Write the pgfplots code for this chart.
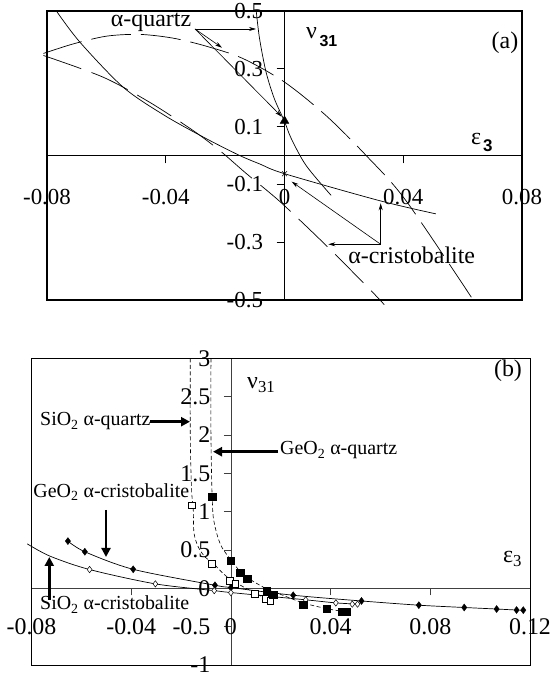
\documentclass[border=0pt]{standalone}
\usepackage{pgfplots}
\pgfplotsset{compat=1.18}
\usetikzlibrary{arrows.meta}
\usepackage{fontspec}
\setmainfont{Liberation Serif}
\setsansfont{Liberation Sans}
\begin{document}
\begin{tikzpicture}
\useasboundingbox (0,0) rectangle (550bp,678bp);

% ---------------- Panel (a) ----------------
\begin{axis}[
 at={(47bp,378bp)}, anchor=south west,
 scale only axis, width=475bp, height=289bp,
 xmin=-0.08, xmax=0.08, ymin=-0.5, ymax=0.5,
 scaled x ticks=false, scaled y ticks=false,
 axis lines=middle,
 axis line style={-, line width=0.8bp},
 hide obscured x ticks=false, hide obscured y ticks=false,
 xtick={-0.08,-0.04,0,0.04,0.08},
 xticklabels={-0.08,-0.04,0,0.04,0.08},
 ytick={-0.5,-0.3,-0.1,0.1,0.3,0.5},
 yticklabels={-0.5,-0.3,-0.1,0.1,0.3,0.5},
 tick align=outside, major tick length=8bp,
 tick style={line width=0.8bp, black},
 xticklabel style={font=\fontsize{23}{23}\selectfont, anchor=north, yshift=-22bp},
 yticklabel style={font=\fontsize{23}{23}\selectfont, anchor=east, xshift=-10bp},
 clip=false,
]
% curve A (solid)
\addplot[black, line width=0.7bp, smooth] coordinates {
(-0.0767,0.498) (-0.0689,0.392) (-0.0543,0.236) (-0.0403,0.138) (-0.0263,0.058)
(-0.0151,0.0) (-0.0084,-0.029) (0,-0.063) (0.0319,-0.156) (0.051,-0.202)};
% curve B (solid steep)
\addplot[black, line width=0.7bp, smooth] coordinates {
(-0.0095,0.498) (-0.0084,0.404) (-0.0062,0.288) (-0.0034,0.196) (0,0.118)
(0.0023,0.058) (0.0073,-0.035) (0.0157,-0.138)};
% curve C (long dashed)
\addplot[black, line width=0.7bp, smooth, dash pattern=on 40bp off 10bp] coordinates {
(-0.0812,0.353) (-0.0712,0.386) (-0.0599,0.413) (-0.0487,0.419) (-0.0375,0.406)
(-0.0263,0.378) (-0.0141,0.336) (0,0.254) (0.014,0.138) (0.0275,0.0)
(0.0409,-0.156) (0.0644,-0.513)};
% curve D (long dashed)
\addplot[black, line width=0.7bp, smooth, dash pattern=on 40bp off 11bp] coordinates {
(-0.0812,0.346) (-0.0611,0.271) (-0.0454,0.184) (-0.0308,0.0865) (-0.0218,0.017)
(-0.0128,-0.063) (-0.0017,-0.158) (0.0129,-0.300) (0.0275,-0.450) (0.0336,-0.516)};
% markers
\addplot[only marks, mark=triangle*, mark size=5bp, black] coordinates {(0,0.12)};
\addplot[only marks, mark=x, mark size=3.5bp, black, line width=0.5bp] coordinates {(0,-0.063)};
\draw[line width=1.5bp] (rel axis cs:0,0) rectangle (rel axis cs:1,1);
\end{axis}

% ---------------- Panel (b) ----------------
\begin{axis}[
 at={(31.5bp,13bp)}, anchor=south west,
 scale only axis, width=498.5bp, height=306.7bp,
 xmin=-0.08, xmax=0.12, ymin=-1, ymax=3,
 scaled x ticks=false, scaled y ticks=false,
 axis lines=middle,
 axis line style={-, line width=0.8bp, black!75},
 hide obscured x ticks=false, hide obscured y ticks=false,
 xtick={-0.08,-0.04,0,0.04,0.08,0.12},
 xticklabels={-0.08,-0.04,0,0.04,0.08,0.12},
 ytick={-1,-0.5,0,0.5,1,1.5,2,2.5,3},
 yticklabels={-1,-0.5,0,0.5,1,1.5,2,2.5,3},
 tick align=outside, major tick length=7bp,
 tick style={line width=0.8bp, black!75},
 xticklabel style={font=\fontsize{24}{24}\selectfont, anchor=north, yshift=-20bp},
 yticklabel style={font=\fontsize{24}{24}\selectfont, anchor=east, xshift=-10bp},
 clip=false,
]
% SiO2 alpha-cristobalite line
\addplot[black, line width=0.7bp, smooth] coordinates {
(-0.0817,0.58) (-0.0726,0.42) (-0.0567,0.245) (-0.0303,0.058) (-0.0067,-0.03)
(0,-0.055) (0.03,-0.15) (0.0421,-0.19) (0.0508,-0.206)};
% GeO2 alpha-cristobalite line
\addplot[black, line width=0.7bp, smooth] coordinates {
(-0.0654,0.616) (-0.0586,0.477) (-0.0392,0.248) (-0.0064,0.04) (0,0.01)
(0.025,-0.09) (0.0524,-0.165) (0.0754,-0.22) (0.0936,-0.25) (0.1066,-0.27)
(0.1146,-0.283) (0.1173,-0.285)};
% SiO2 alpha-quartz dashed
\addplot[black, line width=0.6bp, smooth, dash pattern=on 4bp off 2.5bp] coordinates {
(-0.0163,3) (-0.0163,2.0) (-0.0158,1.3) (-0.0151,1.02) (-0.0148,0.72)
(-0.0131,0.54) (-0.0104,0.41) (-0.0071,0.326) (-0.003,0.19) (0.001,0.09)
(0.005,0.02) (0.0096,-0.06) (0.0157,-0.16)};
% GeO2 alpha-quartz dashed
\addplot[black, line width=0.6bp, smooth, dash pattern=on 4bp off 2.5bp] coordinates {
(-0.0080,3) (-0.0080,2.0) (-0.0077,1.4) (-0.0075,1.194) (-0.0071,0.934)
(-0.0057,0.717) (-0.0037,0.54) (0,0.37) (0.004,0.21) (0.008,0.11)
(0.0145,-0.01) (0.02,-0.08) (0.029,-0.19) (0.0384,-0.265) (0.0466,-0.31)};
% markers
\addplot[only marks, mark=diamond*, mark size=3.5bp, black] coordinates {
(-0.0654,0.616) (-0.0586,0.477) (-0.0392,0.248) (-0.0064,0.04) (0,0.01)
(0.025,-0.09) (0.0524,-0.165) (0.0754,-0.22) (0.0936,-0.25) (0.1066,-0.27)
(0.1146,-0.283) (0.1173,-0.285)};
\addplot[only marks, mark=diamond*, mark size=3.2bp, black, fill=white, line width=0.5bp] coordinates {
(-0.0567,0.245) (-0.0303,0.058) (-0.0067,-0.03) (0,-0.057) (0.03,-0.15)
(0.0421,-0.19) (0.0487,-0.206) (0.0508,-0.206)};
\addplot[only marks, mark=square*, mark size=3.2bp, black, fill=white, line width=0.5bp] coordinates {
(-0.0157,1.08) (-0.0077,0.32) (-0.0005,0.10) (0.0018,0.06) (0.0096,-0.07)
(0.0139,-0.138) (0.0157,-0.16)};
\addplot[only marks, mark=square*, mark size=3.6bp, black] coordinates {
(-0.0075,1.19) (0,0.362) (0.0037,0.20) (0.0065,0.124) (0.0145,-0.029)
(0.017,-0.08) (0.029,-0.21) (0.0384,-0.268) (0.0445,-0.31) (0.0466,-0.31)};
\draw[line width=0.9bp] (rel axis cs:0,0) rectangle (rel axis cs:1,1);
\end{axis}

% ---------------- Annotations (pixel frame) ----------------
\begin{scope}[x=1bp, y=-1bp, yshift=678bp]
% panel (a)
\node[font=\fontsize{24}{24}\selectfont, anchor=base, inner sep=0] at (151,26.7) {α-quartz};
\draw[line width=0.6bp, -{Stealth[length=7bp,width=4bp]}] (195,29) -- (256,29);
\draw[line width=0.6bp, -{Stealth[length=7bp,width=4bp]}] (195,29) -- (222,47.7);
\draw[line width=0.6bp, -{Stealth[length=7bp,width=4bp]}] (195,29) -- (281.7,116.7);
\node[font=\fontsize{24}{24}\selectfont, anchor=base, inner sep=0] at (411.7,263.3) {α-cristobalite};
\draw[line width=0.6bp, -{Stealth[length=7bp,width=4bp]}] (380.7,244.3) -- (380.7,203.3);
\draw[line width=0.6bp, -{Stealth[length=7bp,width=4bp]}] (380.7,244.3) -- (328.3,244.3);
\draw[line width=0.6bp, -{Stealth[length=7bp,width=4bp]}] (380.7,244.3) -- (291.7,181.7);
\node[font=\fontsize{24}{24}\selectfont, anchor=base west, inner sep=0] at (306,38.3) {ν};
\node[font=\sffamily\bfseries\fontsize{16}{16}\selectfont, anchor=base west, inner sep=0] at (319.3,46.7) {31};
\node[font=\fontsize{24}{24}\selectfont, anchor=base west, inner sep=0] at (471,145) {ε};
\node[font=\sffamily\bfseries\fontsize{17}{17}\selectfont, anchor=base west, inner sep=0] at (483,151.7) {3};
\node[font=\fontsize{24}{24}\selectfont, anchor=center, inner sep=0] at (505,43) {(a)};
% panel (b)
\node[font=\fontsize{24}{24}\selectfont, anchor=base west, inner sep=0] at (247,389) {ν\textsubscript{31}};
\node[font=\fontsize{24}{24}\selectfont, anchor=center, inner sep=0] at (508,371) {(b)};
\node[font=\fontsize{24}{24}\selectfont, anchor=base west, inner sep=0] at (503,563) {ε\textsubscript{3}};
\node[font=\fontsize{20}{20}\selectfont, anchor=base west, inner sep=0] at (40,426) {SiO\textsubscript{2} α-quartz};
\draw[line width=2.6bp, -{Triangle[length=9bp,width=9bp]}] (150,421.7) -- (190,421.7);
\node[font=\fontsize{20}{20}\selectfont, anchor=base west, inner sep=0] at (280,455) {GeO\textsubscript{2} α-quartz};
\draw[line width=2.6bp, -{Triangle[length=9bp,width=9bp]}] (278,451.7) -- (213,451.7);
\node[font=\fontsize{20}{20}\selectfont, anchor=base west, inner sep=0] at (33.3,497.3) {GeO\textsubscript{2} α-cristobalite};
\draw[line width=2.6bp, -{Triangle[length=9bp,width=9bp]}] (106,510) -- (106,557);
\node[font=\fontsize{20}{20}\selectfont, anchor=base west, inner sep=0] at (40,610) {SiO\textsubscript{2} α-cristobalite};
\draw[line width=2.6bp, -{Triangle[length=9bp,width=9bp]}] (49.3,600) -- (49.3,557);
\end{scope}
\end{tikzpicture}
\end{document}
